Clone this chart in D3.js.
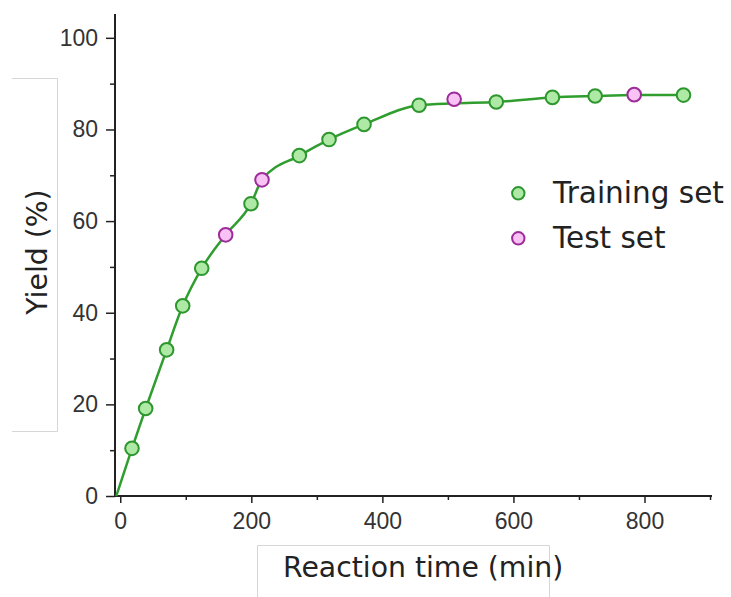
<!DOCTYPE html>
<html>
<head>
<meta charset="utf-8">
<script src="https://cdn.jsdelivr.net/npm/d3@7"></script>
<style>
  html, body { margin: 0; padding: 0; background: #fff; }
  svg { display: block; }
</style>
</head>
<body>
<svg id="chart" width="731" height="597"></svg>
<script>
// ---- data ----
const trainTime  = [17.9, 38.8, 70.8, 95.3, 124.3, 199.5, 273.3, 318.6, 372, 456, 573.8, 659.5, 724.7, 859.5];
const trainYield = [10.4, 19.1, 31.9, 41.5, 49.7, 63.8, 74.3, 77.8, 81.1, 85.3, 86.0, 87.0, 87.3, 87.5];
const testTime   = [160.9, 216.3, 509.5, 784.3];
const testYield  = [57.0, 69.0, 86.6, 87.6];
// drawn curve, points
const fitTime  = [-6, 17.9, 38.8, 70.8, 95.3, 124.3, 160.9, 199.5, 216.3, 273.3, 318.6, 372, 456, 509.5, 573.8, 659.5, 724.7, 784.3, 859.5];
const fitYield = [0, 10.4, 19.1, 31.9, 41.5, 49.7, 57.0, 63.8, 69.0, 74.3, 77.8, 81.1, 85.3, 85.7, 86.0, 87.0, 87.3, 87.5, 87.5];
const xTicks = [0, 200, 400, 600, 800];
const xMinorTicks = [100, 300, 500, 700, 900];
const yTicks = [0, 20, 40, 60, 80, 100];
const yMinorTicks = [10, 30, 50, 70, 90];
const legendLabels = ["Training set", "Test set"];
const xLabel = "Reaction time (min)";
const yLabel = "Yield (%)";

const svg = d3.select("#chart");
const x = d3.scaleLinear().domain([-8, 903]).range([115, 712]);
const y = d3.scaleLinear().domain([0, 105.2]).range([496, 14]);

const axisColor = "#222";
const tickFont = "'Liberation Sans', Arial, sans-serif";
const labelFont = "'DejaVu Sans', Verdana, sans-serif";

// label boxes (light grey frames)
svg.append("path")
  .attr("d", "M12,78.5 H57.5 V431.5 H12")
  .attr("fill", "none").attr("stroke", "#d6d6d6").attr("stroke-width", 1);
svg.append("path")
  .attr("d", "M257.5,600 V545.5 H549.5 V600")
  .attr("fill", "none").attr("stroke", "#d6d6d6").attr("stroke-width", 1);

// x axis
const xAxis = d3.axisBottom(x).tickValues(xTicks).tickSize(7).tickPadding(10).tickFormat(d3.format("d"));
const gx = svg.append("g").attr("transform", `translate(0,${y(0)})`).call(xAxis);
gx.select(".domain").attr("d", `M${x.range()[0]},0H${x.range()[1]}`).attr("stroke", axisColor).attr("stroke-width", 2);
gx.selectAll(".tick line").attr("stroke", axisColor).attr("stroke-width", 1.5);
gx.selectAll(".tick text").attr("font-family", tickFont).attr("font-size", 23).attr("fill", "#333");
const gxm = svg.append("g").attr("transform", `translate(0,${y(0)})`)
  .call(d3.axisBottom(x).tickValues(xMinorTicks).tickSize(4).tickFormat(""));
gxm.select(".domain").remove();
gxm.selectAll(".tick line").attr("stroke", axisColor).attr("stroke-width", 1.5);

// y axis
const yAxis = d3.axisLeft(y).tickValues(yTicks).tickSize(9).tickPadding(8).tickFormat(d3.format("d"));
const gy = svg.append("g").attr("transform", `translate(${x.range()[0]},0)`).call(yAxis);
gy.select(".domain").attr("d", `M0,${y.range()[0]}V${y.range()[1]}`).attr("stroke", axisColor).attr("stroke-width", 2);
gy.selectAll(".tick line").attr("stroke", axisColor).attr("stroke-width", 1.5);
gy.selectAll(".tick text").attr("font-family", tickFont).attr("font-size", 23).attr("fill", "#333");
const gym = svg.append("g").attr("transform", `translate(${x.range()[0]},0)`)
  .call(d3.axisLeft(y).tickValues(yMinorTicks).tickSize(5).tickFormat(""));
gym.select(".domain").remove();
gym.selectAll(".tick line").attr("stroke", axisColor).attr("stroke-width", 1.5);

// axis labels
svg.append("text")
  .attr("x", 283).attr("y", 577)
  .attr("font-family", labelFont).attr("font-size", 28.3).attr("fill", "#222")
  .text(xLabel);
svg.append("text")
  .attr("transform", "translate(46.5,252) rotate(-90)")
  .attr("text-anchor", "middle")
  .attr("font-family", labelFont).attr("font-size", 28.3).attr("fill", "#222")
  .text(yLabel);

// curve
const fit = fitTime.map((t, i) => ({ t, v: fitYield[i] }));
const line = d3.line().x(d => x(d.t)).y(d => y(d.v)).curve(d3.curveMonotoneX);
svg.append("path").datum(fit)
  .attr("d", line).attr("fill", "none").attr("stroke", "#2f9e2f").attr("stroke-width", 2.5);

const train = trainTime.map((t, i) => ({ t, v: trainYield[i], set: "train" }));
const test = testTime.map((t, i) => ({ t, v: testYield[i], set: "test" }));
const styles = {
  train: { fill: "#aeeaa6", stroke: "#2e962e" },
  test: { fill: "#f9c2f4", stroke: "#9b2c99" }
};
svg.append("g").selectAll("circle").data(train.concat(test)).join("circle")
  .attr("cx", d => x(d.t)).attr("cy", d => y(d.v)).attr("r", 6.8)
  .attr("fill", d => styles[d.set].fill).attr("stroke", d => styles[d.set].stroke).attr("stroke-width", 2);

// legend
const legend = svg.append("g");
["train", "test"].forEach((k, i) => {
  const cy = 193.3 + i * 45;
  legend.append("circle").attr("cx", 518.3).attr("cy", cy).attr("r", 6.2)
    .attr("fill", styles[k].fill).attr("stroke", styles[k].stroke).attr("stroke-width", 2);
  legend.append("text").attr("x", 553).attr("y", cy + 10)
    .attr("font-family", labelFont).attr("font-size", 29.5).attr("fill", "#222")
    .text(legendLabels[i]);
});
</script>
</body>
</html>
